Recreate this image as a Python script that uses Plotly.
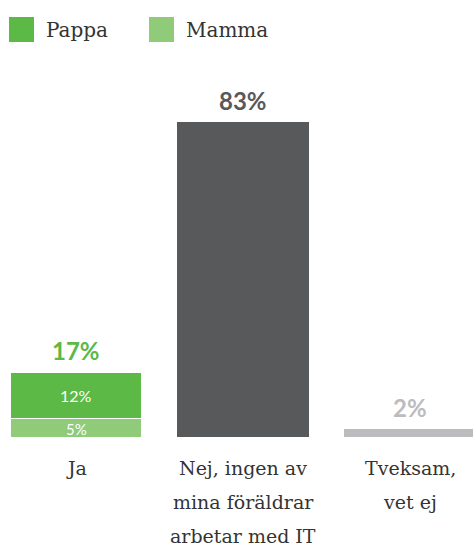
import plotly.graph_objects as go

categories = ["Ja", "Nej, ingen av<br>mina föräldrar<br>arbetar med IT", "Tveksam,<br>vet ej"]
series_names = ["Pappa", "Mamma"]
pappa = [12, None, None]
mamma = [5, None, None]
other = [None, 83, 2]
totals = [17, 83, 2]

GREEN = "#5cb946"
LGREEN = "#8fcb78"
DGRAY = "#58595b"
LGRAY = "#bcbcbe"
NUMFONT = "Lato"
LABFONT = "DejaVu Serif"

W, H = 473, 552
BASE = 437                # baseline y inside figure
MB = H - BASE
PH = BASE
PX_PER_UNIT = 315 / 83
STEP = 167
CX0 = 76

fig = go.Figure()
fig.add_trace(go.Bar(x=[0, 1, 2], y=mamma, name=series_names[1],
                     marker=dict(color=LGREEN, line=dict(color="white", width=1)),
                     showlegend=False, hoverinfo="skip"))
fig.add_trace(go.Bar(x=[0, 1, 2], y=pappa, name=series_names[0],
                     marker=dict(color=GREEN, line=dict(color="white", width=1)),
                     showlegend=False, hoverinfo="skip"))
fig.add_trace(go.Bar(x=[0, 1, 2], y=other, marker=dict(color=[DGRAY, DGRAY, LGRAY], line=dict(width=0)),
                     showlegend=False, hoverinfo="skip"))

annotations = []
# inside segment labels
for i, (m, p) in enumerate(zip(mamma, pappa)):
    if m:
        annotations.append(dict(x=i, y=m / 2, xref="x", yref="y", text=f"{m}%", showarrow=False,
                                yshift=-1, font=dict(size=15, color="white", family=NUMFONT)))
    if p:
        annotations.append(dict(x=i, y=(m or 0) + p / 2, xref="x", yref="y", text=f"{p}%", showarrow=False,
                                font=dict(size=16, color="white", family=NUMFONT)))

label_colors = [GREEN, DGRAY, LGRAY]
for i, t in enumerate(totals):
    annotations.append(dict(x=i, y=t, xref="x", yref="y", text=f"<b>{t}%</b>", showarrow=False,
                            yanchor="bottom", yshift=5, font=dict(size=24, color=label_colors[i], family=NUMFONT)))

# category labels, one annotation per line
LINE_Y0 = 468
LINE_STEP = 34
for i, cat in enumerate(categories):
    for j, line in enumerate(cat.split("<br>")):
        yfig = LINE_Y0 + j * LINE_STEP
        annotations.append(dict(x=i, y=(BASE - yfig) / PH, xref="x", yref="paper", text=line, showarrow=False,
                                yanchor="middle", font=dict(size=19, color="#333333", family=LABFONT)))

# custom legend
leg_colors = [GREEN, LGREEN]
leg_x = [9, 149]
shapes = []
for name, c, lx in zip(series_names, leg_colors, leg_x):
    shapes.append(dict(type="rect", xref="paper", yref="paper", x0=lx / W, x1=(lx + 25) / W,
                       y0=1 - 42 / PH, y1=1 - 17 / PH, fillcolor=c, line=dict(width=0)))
    annotations.append(dict(x=(lx + 35) / W, y=1 - 30 / PH, xref="paper", yref="paper", text=name,
                            showarrow=False, xanchor="left", yanchor="middle",
                            font=dict(size=20, color="#333333", family=LABFONT)))

fig.update_layout(
    width=W, height=H, margin=dict(l=0, r=0, t=0, b=MB),
    paper_bgcolor="white", plot_bgcolor="white",
    barmode="stack", bargap=0.21,
    xaxis=dict(range=[-CX0 / STEP, -CX0 / STEP + W / STEP], tickvals=[0, 1, 2], showticklabels=False,
               showgrid=False, zeroline=False, showline=False, ticks="", fixedrange=True),
    yaxis=dict(range=[0, PH / PX_PER_UNIT], visible=False, fixedrange=True),
    shapes=shapes, annotations=annotations,
)

fig.write_html("out.html", config={"displayModeBar": False},
               post_script="document.body.style.margin='0';document.body.style.overflow='hidden';")
